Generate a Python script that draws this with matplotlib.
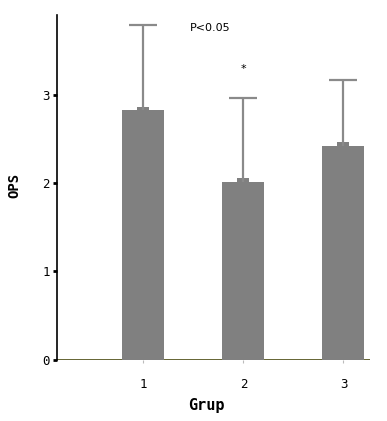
import numpy as np
import matplotlib.pyplot as plt

groups = ["1", "2", "3"]
means = [2.82, 2.01, 2.42]
sd = [0.97, 0.95, 0.74]
yticks = [0, 1, 2, 3]

x = np.arange(1, len(groups) + 1)

fig = plt.figure(figsize=(3.87, 4.21), dpi=100)
ax = fig.add_axes([0.147, 0.145, 0.809, 0.8195])

bar_grey = "#808080"
ax.bar(x, means, width=0.42, color=bar_grey, zorder=2)
# little block sitting on the bar top where the error bar starts
ax.bar(x, 0.045, bottom=means, width=0.12, color=bar_grey, zorder=3)
_, caps, _ = ax.errorbar(x, means, yerr=[np.zeros(len(sd)), sd], fmt="none",
                         ecolor="#8a8a8a", elinewidth=1.6, capsize=10,
                         capthick=1.6, zorder=3)
caps[0].set_visible(False)  # only the upper cap

ax.set_xlim(0.135, 3.265)
ax.set_ylim(0, 3.9)

for side in ["top", "right", "bottom"]:
    ax.spines[side].set_visible(False)
ax.spines["left"].set_linewidth(1.2)
ax.axhline(0, color="#4a4a10", lw=1.2, zorder=1)

ax.set_yticks(yticks)
ax.set_yticklabels([str(t) for t in yticks], family="DejaVu Sans Mono", fontsize=9)
ax.tick_params(axis="y", length=3, width=2, pad=2)
ax.set_xticks(x)
ax.set_xticklabels(groups, family="DejaVu Sans Mono", fontsize=9)
ax.tick_params(axis="x", length=2, color="#bbbbbb", pad=11)

ax.set_ylabel("OPS", family="DejaVu Sans Mono", fontweight="bold", fontsize=10)
ax.yaxis.set_label_coords(-0.115, 0.507)
ax.set_xlabel("Grup", family="DejaVu Sans Mono", fontweight="bold", fontsize=11)
ax.xaxis.set_label_coords(0.479, -0.11)

ax.text(1.465, 3.75, "P<0.05", fontsize=8, va="center", ha="left")
ax.text(2.0, 3.29, "*", fontsize=8, va="center", ha="center")

fig.savefig("out.png", dpi=100)
